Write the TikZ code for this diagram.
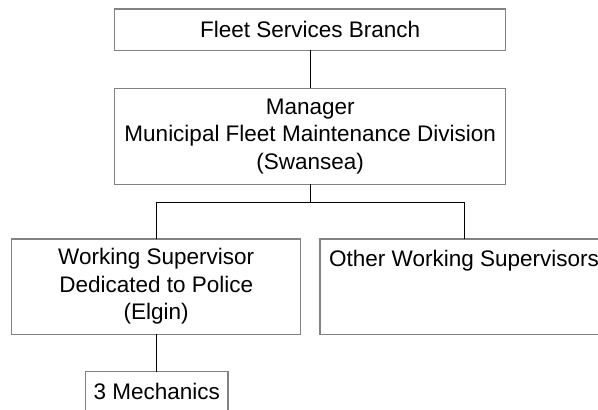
\documentclass[tikz,border=0pt]{standalone}
\usepackage{fontspec}
\setmainfont{Liberation Sans}
\definecolor{boxgray}{RGB}{130,130,130}
\begin{document}
\begin{tikzpicture}[x=1pt,y=-1pt,
  box/.style={draw=boxgray, line width=1.1pt, fill=white, inner sep=0pt, outer sep=0pt, align=center,
    font=\fontsize{22.5}{27.5}\selectfont},
  link/.style={draw=black, line width=1pt}]
\useasboundingbox (0,0) rectangle (598,410);
\clip (0,0) rectangle (598,410);
\fill[white] (0,0) rectangle (598,410);
\node[box, minimum width=391pt, minimum height=41.5pt] (fleet) at (310.2,29.7) {Fleet Services Branch};
\node[box, minimum width=391pt, minimum height=95.7pt] (manager) at (310.2,136.2)
  {Manager\\Municipal Fleet Maintenance Division\\(Swansea)};
\node[box, minimum width=289pt, minimum height=95.2pt] (police) at (156.2,286.6)
  {Working Supervisor\\Dedicated to Police\\(Elgin)};
\node[box, minimum width=288pt, minimum height=95.2pt,
  label={[anchor=north west, inner sep=0pt, font=\fontsize{22.5}{27.5}\selectfont, xshift=9pt, yshift=-11pt]north west:Other Working Supervisors}] (others) at (464,286.6) {};
\node[box, minimum width=142.3pt, minimum height=40pt] (mech) at (156.8,391.7) {3 Mechanics};
\coordinate (bar) at (310.2,202.5);
\draw[link] (fleet.south) -- (manager.north);
\draw[link] (manager.south) -- (bar);
\draw[link] (police.north) |- (bar) -| (others.north);
\draw[link] (police.south) -- (police.south |- mech.north);
\end{tikzpicture}
\end{document}
